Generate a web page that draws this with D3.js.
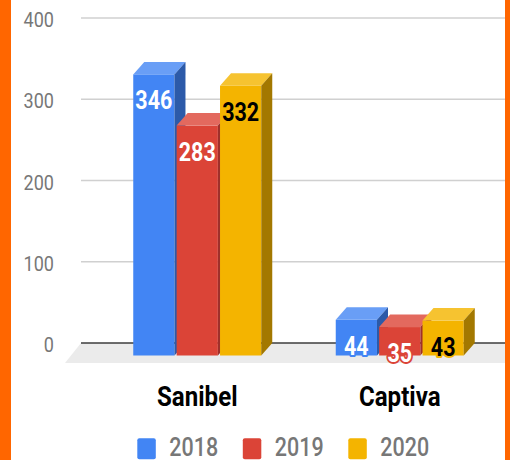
<!DOCTYPE html>
<html>
<head>
<meta charset="utf-8">
<script src="https://cdn.jsdelivr.net/npm/d3@7"></script>
<style>
  html, body { margin: 0; padding: 0; background: #fff; }
  svg { display: block; font-family: Roboto, "Noto Sans", sans-serif; }
</style>
</head>
<body>
<svg id="chart" width="510" height="460"></svg>
<script>
var categories = ['Sanibel', 'Captiva'];
var years = ['2018', '2019', '2020'];
var values2018 = [346, 44];
var values2019 = [283, 35];
var values2020 = [332, 43];
var yTicks = [0, 100, 200, 300, 400];

var frontColors = ['#4285f4', '#db4437', '#f4b400'];
var topColors = ['#699ef6', '#e3695e', '#f6c330'];
var sideColors = ['#2c5aa9', '#a0302a', '#a37800'];
var labelColors = ['#ffffff', '#ffffff', '#000000'];

// 3D depth of the bars
var DEPTH_X = 11;
var DEPTH_Y = -12.5;

// text in the picture is a bit narrow
var SQUEEZE = 0.86;

var svg = d3.select('#chart');

var y = d3.scaleLinear().domain([0, 400]).range([355.5, 30.5]);

var x = d3.scaleBand().domain(categories).range([96, 501]);
var xInner = d3.scaleBand().domain(years).range([-64, 64]).paddingInner(0.05);

var series = years.map(function(yr, i) {
  var vals = [values2018, values2019, values2020][i];
  return vals.map(function(v, c) {
    return { year: yr, index: i, category: categories[c], value: v };
  });
});

// back wall gridlines
var gridLeft = 81;
var gridRight = 505;

svg.append('g')
  .selectAll('line')
  .data(yTicks.filter(function(t) { return t > 0; }))
  .enter()
  .append('line')
    .attr('x1', gridLeft)
    .attr('x2', gridRight)
    .attr('y1', function(d) { return y(d) + DEPTH_Y; })
    .attr('y2', function(d) { return y(d) + DEPTH_Y; })
    .attr('stroke', '#d0d0d0')
    .attr('stroke-width', 1.5);

// floor
var floorBack = y(0) + DEPTH_Y;
var floorFront = floorBack + 20;
svg.append('polygon')
  .attr('points', [
    [gridLeft, floorBack], [gridRight, floorBack],
    [gridRight, floorFront], [gridLeft - 16, floorFront]
  ].map(function(p) { return p.join(','); }).join(' '))
  .attr('fill', '#ebebeb');

svg.append('line')
  .attr('x1', gridLeft)
  .attr('x2', gridRight)
  .attr('y1', floorBack)
  .attr('y2', floorBack)
  .attr('stroke', '#3c3c3c')
  .attr('stroke-width', 1.5);

// y axis labels
svg.append('g')
  .selectAll('text')
  .data(yTicks)
  .enter()
  .append('text')
    .attr('transform', function(d) {
      return 'translate(54,' + (y(d) + DEPTH_Y + 9) + ') scale(' + SQUEEZE + ',1)';
    })
    .attr('text-anchor', 'end')
    .attr('font-size', 21)
    .attr('fill', '#777')
    .text(function(d) { return d; });

function barX(d) {
  return x(d.category) + x.bandwidth() / 2 + xInner(d.year);
}

function pts(list) {
  return list.map(function(p) { return p.join(','); }).join(' ');
}

// bars, drawn left to right so the right ones hide the sides
var bars = [];
categories.forEach(function(cat, c) {
  series.forEach(function(s) { bars.push(s[c]); });
});

var barG = svg.append('g')
  .selectAll('g')
  .data(bars)
  .enter()
  .append('g');

barG.append('rect')
  .attr('x', barX)
  .attr('y', function(d) { return y(d.value); })
  .attr('width', xInner.bandwidth())
  .attr('height', function(d) { return y(0) - y(d.value); })
  .attr('fill', function(d) { return frontColors[d.index]; });

barG.append('polygon')
  .attr('points', function(d) {
    var x0 = barX(d), x1 = x0 + xInner.bandwidth(), t = y(d.value);
    return pts([[x0, t], [x1, t], [x1 + DEPTH_X, t + DEPTH_Y], [x0 + DEPTH_X, t + DEPTH_Y]]);
  })
  .attr('fill', function(d) { return topColors[d.index]; });

barG.append('polygon')
  .attr('points', function(d) {
    var x1 = barX(d) + xInner.bandwidth(), t = y(d.value), b = y(0);
    return pts([[x1, t], [x1 + DEPTH_X, t + DEPTH_Y], [x1 + DEPTH_X, b + DEPTH_Y], [x1, b]]);
  })
  .attr('fill', function(d) { return sideColors[d.index]; });

// value labels with a halo in the bar colour
svg.append('g')
  .selectAll('text')
  .data(bars)
  .enter()
  .append('text')
    .attr('transform', function(d) {
      var cx = barX(d) + xInner.bandwidth() / 2;
      return 'translate(' + cx + ',' + (y(d.value) + 35) + ') scale(' + SQUEEZE + ',1)';
    })
    .attr('text-anchor', 'middle')
    .attr('font-size', 25)
    .attr('font-weight', 700)
    .attr('fill', function(d) { return labelColors[d.index]; })
    .attr('stroke', function(d) { return frontColors[d.index]; })
    .attr('stroke-width', 4)
    .attr('stroke-linejoin', 'round')
    .attr('paint-order', 'stroke')
    .text(function(d) { return d.value; });

// category labels
svg.append('g')
  .selectAll('text')
  .data(categories)
  .enter()
  .append('text')
    .attr('transform', function(d) {
      return 'translate(' + (x(d) + x.bandwidth() / 2) + ',406) scale(' + SQUEEZE + ',1)';
    })
    .attr('text-anchor', 'middle')
    .attr('font-size', 28)
    .attr('font-weight', 700)
    .attr('fill', '#000')
    .text(function(d) { return d; });

// legend
var legend = svg.append('g')
  .selectAll('g')
  .data(years)
  .enter()
  .append('g')
    .attr('transform', function(d, i) { return 'translate(' + (137.3 + i * 105.5) + ',438.3)'; });

legend.append('rect')
  .attr('width', 18.5)
  .attr('height', 21)
  .attr('rx', 2)
  .attr('fill', function(d, i) { return frontColors[i]; });

legend.append('text')
  .attr('transform', 'translate(32,17.8) scale(' + SQUEEZE + ',1)')
  .attr('font-size', 25)
  .attr('font-weight', 500)
  .attr('fill', '#777')
  .text(function(d) { return d; });

// orange frame on the sides
svg.append('rect').attr('x', 0).attr('y', 0).attr('width', 11).attr('height', 460).attr('fill', '#ff6600');
svg.append('rect').attr('x', 505).attr('y', 0).attr('width', 5).attr('height', 460).attr('fill', '#ff6600');
</script>
</body>
</html>
